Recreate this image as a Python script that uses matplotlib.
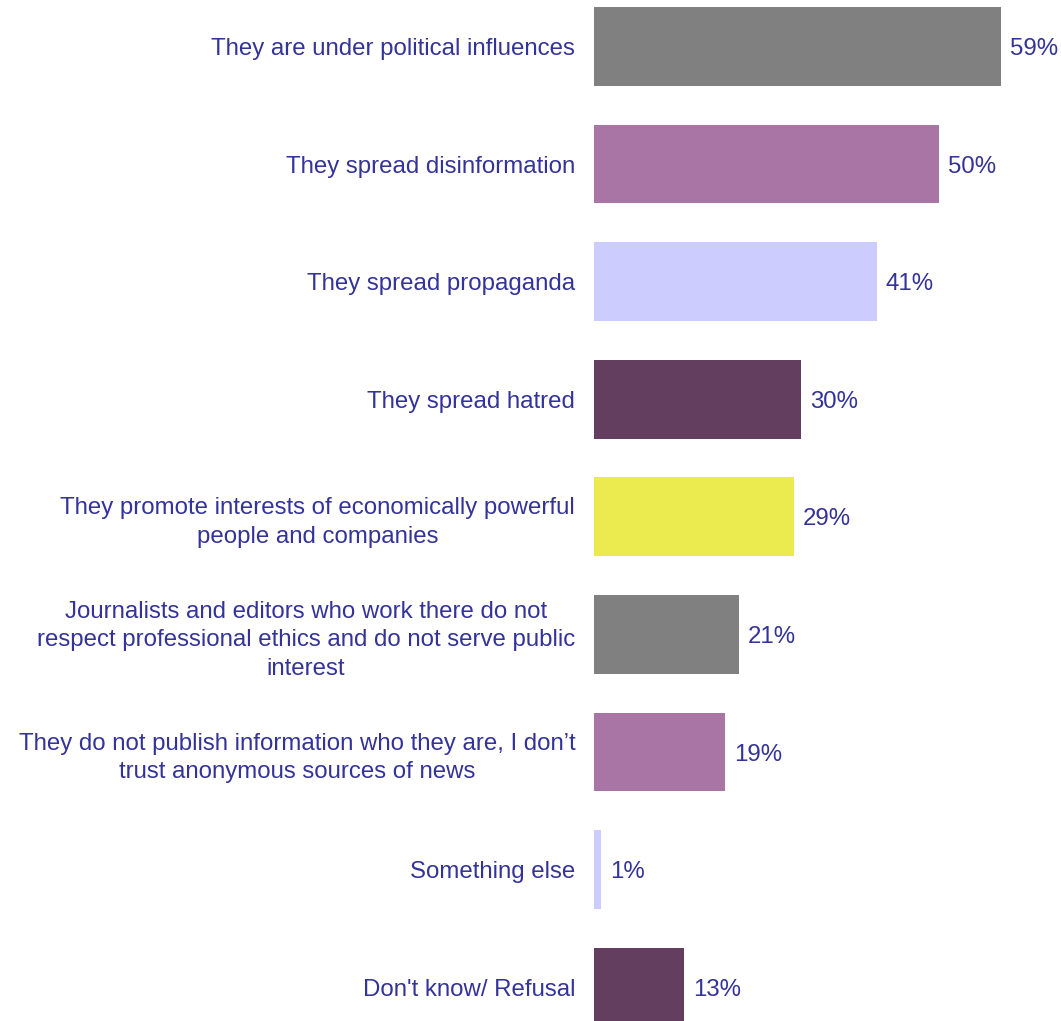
import matplotlib.pyplot as plt

plt.rcParams['font.family'] = ['Liberation Sans', 'DejaVu Sans']

reasons = [
    "They are under political influences",
    "They spread disinformation",
    "They spread propaganda",
    "They spread hatred",
    "They promote interests of economically powerful\npeople and companies",
    "Journalists and editors who work there do not\nrespect professional ethics and do not serve public\ninterest",
    "They do not publish information who they are, I don\u2019t\ntrust anonymous sources of news",
    "Something else",
    "Don't know/ Refusal",
]
shares = [59, 50, 41, 30, 29, 21, 19, 1, 13]
colors = ["#808080", "#A975A5", "#CCCCFF", "#633E5F", "#EBEB50",
          "#808080", "#A975A5", "#CCCCFF", "#633E5F"]

text_color = "#333399"
fs = 17.3

fig = plt.figure(figsize=(10.61, 10.21), dpi=100)
ax = fig.add_axes([594 / 1061, 0, 1 - 594 / 1061, 1])

pos = list(range(len(reasons)))
bars = ax.barh(pos, shares, height=0.67, color=colors)
vals = ax.bar_label(bars, labels=["%d%%" % v for v in shares], padding=6.5,
                    color=text_color, fontsize=fs)
for t in vals:
    t.set_va("center_baseline")

ax.set_xlim(0, (1061 - 594) / 6.9)
ax.set_ylim(8.287, -0.395)
ax.set_yticks(pos)
ax.set_yticklabels(reasons, fontsize=fs, color=text_color)
for t in ax.get_yticklabels():
    t.set_multialignment("center")
    t.set_linespacing(1.4)
ax.tick_params(axis="y", length=0, pad=13.5)
ax.set_xticks([])
for s in ax.spines.values():
    s.set_visible(False)

fig.savefig("out.png", dpi=100)
